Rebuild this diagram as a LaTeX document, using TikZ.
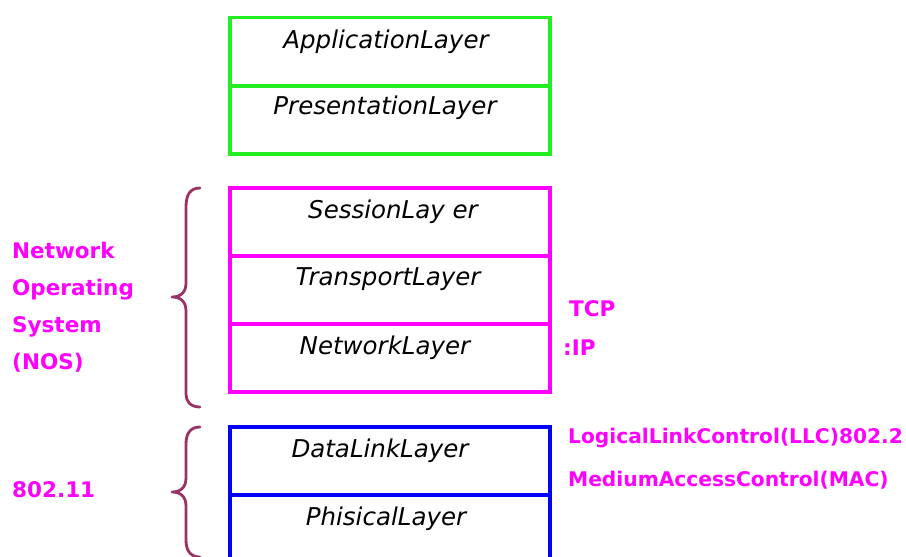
\documentclass[tikz,border=0pt]{standalone}
\usepackage{fontspec}
\setmainfont{DejaVu Sans}
\begin{document}
\begin{tikzpicture}[x=1pt,y=-1pt,
  cell/.style={draw, line width=3.4pt, minimum width=320pt, minimum height=68pt, inner sep=0pt},
  celltext/.style={font=\fontsize{24.5}{28}\selectfont\itshape, text=black, inner sep=0pt},
  side/.style={font=\fontsize{21.5}{37}\selectfont\bfseries, text=nosmag, inner sep=0pt, anchor=west, align=left},
  longside/.style={side, font=\fontsize{20.2}{24}\selectfont\bfseries},
  bracepath/.style={draw=braceplum, line width=2.8pt, line cap=round, line join=round}]
\definecolor{upgreen}{HTML}{22EE22}
\definecolor{nosmag}{HTML}{FF00FF}
\definecolor{linkblue}{HTML}{0000FF}
\definecolor{braceplum}{HTML}{993366}
\useasboundingbox (0,0) rectangle (906,557);
\clip (0,0) rectangle (906,557);
\fill[white] (0,0) rectangle (906,557);

% upper layers
\node[cell, draw=upgreen] (app) at (390,51.5) {};
\node[cell, draw=upgreen] (pres) at (390,120) {};
% NOS layers
\node[cell, draw=nosmag] (sess) at (390,222) {};
\node[cell, draw=nosmag] (trans) at (390,290) {};
\node[cell, draw=nosmag] (net) at (390,358) {};
% link layers
\node[cell, draw=linkblue] (dll) at (390,461) {};
\node[cell, draw=linkblue] (phy) at (390,529) {};

\node[celltext] (tapp) at (386,42) {ApplicationLayer};
\node[celltext] (tpres) at (385,108) {PresentationLayer};
\node[celltext] (tsess) at (393,212) {SessionLay er};
\node[celltext] (ttrans) at (388,279) {TransportLayer};
\node[celltext] (tnet) at (385,348) {NetworkLayer};
\node[celltext] (tdll) at (380,451) {DataLinkLayer};
\node[celltext] (tphy) at (386,519) {PhisicalLayer};

% left labels
\node[side] (nos) at (12,307) {Network\\Operating\\System\\(NOS)};
\node[side] (wifi) at (12,490) {802.11};

% right labels
\node[side] (tcp) at (569,309) {TCP};
\node[side] (ip) at (563,348) {:IP};
\node[longside] (llc) at (568,438) {LogicalLinkControl(LLC)802.2};
\node[longside] (mac) at (568,480) {MediumAccessControl(MAC)};

% braces
\draw[bracepath] (200,188) .. controls (190,188) and (186,195) .. (186,207) -- (186,283)
  .. controls (186,292) and (181,297) .. (172,297)
  .. controls (181,297) and (186,302) .. (186,311) -- (186,394)
  .. controls (186,401) and (190,407) .. (200,407);
\draw[bracepath] (200,427) .. controls (190,427) and (186,434) .. (186,444) -- (186,478)
  .. controls (186,487) and (181,492) .. (172,492)
  .. controls (181,492) and (186,497) .. (186,506) -- (186,540)
  .. controls (186,550) and (190,557) .. (200,557);
\end{tikzpicture}
\end{document}
